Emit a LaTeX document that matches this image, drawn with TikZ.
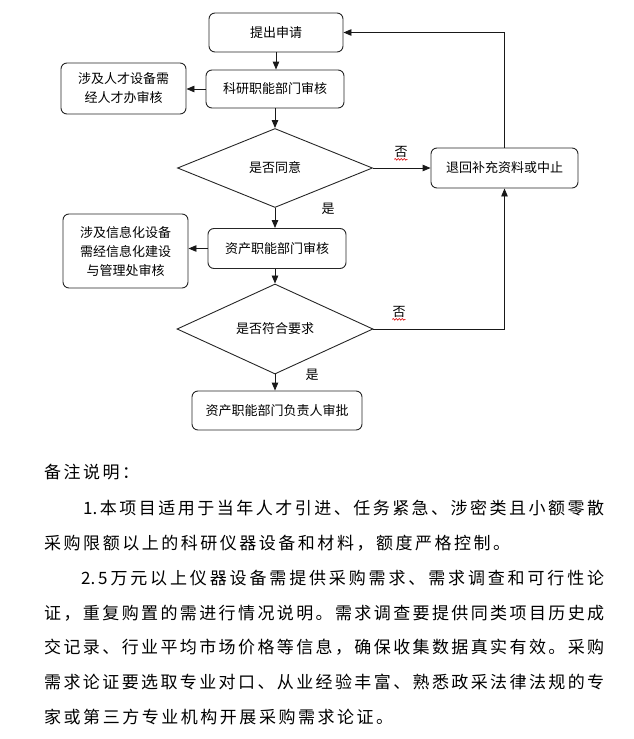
\documentclass[tikz,border=0pt]{standalone}
\usepackage{fontspec}
\setmainfont{Noto Sans CJK SC}
\usetikzlibrary{shapes.geometric,arrows.meta,decorations.pathmorphing}
\makeatletter
\def\sp@end{\sp@end}
\newcommand\spreadline[2]{\makebox[#1][s]{\sp@go#2\sp@end}}
\def\sp@go#1{\ifx\sp@end#1\else#1\expandafter\sp@next\fi}
\def\sp@next#1{\ifx\sp@end#1\else\hfil#1\expandafter\sp@next\fi}
\makeatother
\newcommand\nA{1.}
\newcommand\nB{2.}
\begin{document}
\begin{tikzpicture}[x=1pt,y=-1pt,
  box/.style={draw=black!85, line width=0.9pt, rounded corners=6pt, inner sep=0pt, align=center, font=\fontsize{13}{19}\selectfont},
  dia/.style={draw=black!85, line width=0.9pt, diamond, inner sep=0pt, font=\fontsize{13}{15}\selectfont},
  arr/.style={draw=black!90, line width=0.9pt, -{Triangle[length=8pt,width=6.5pt]}},
  lbl/.style={inner sep=0pt, font=\fontsize{13}{15}\selectfont},
  wavy/.style={draw=red!85!black, line width=0.6pt, decorate, decoration={snake, amplitude=0.8pt, segment length=3pt}},
  para/.style={anchor=west, inner sep=0pt, font=\fontsize{17}{20}\selectfont}]
\useasboundingbox (0,0) rectangle (634,739);

% flowchart nodes
\node[box, minimum width=134pt, minimum height=39pt] (apply) at (276,32.5) {提出申请};
\node[box, minimum width=138pt, minimum height=38pt] (keyan) at (275,89) {科研职能部门审核};
\node[box, minimum width=125pt, minimum height=51pt] (talent) at (123.5,88.5) {涉及人才设备需\\经人才办审核};
\node[dia, minimum width=195pt, minimum height=79pt] (d1) at (275,168) {是否同意};
\node[box, minimum width=147pt, minimum height=40pt] (back) at (504.5,168) {退回补充资料或中止};
\node[box, minimum width=125pt, minimum height=74pt] (info) at (125.5,251) {涉及信息化设备\\需经信息化建设\\与管理处审核};
\node[box, minimum width=138pt, minimum height=40pt] (asset) at (277,248.5) {资产职能部门审核};
\node[dia, minimum width=196pt, minimum height=80pt] (d2) at (275,329) {是否符合要求};
\node[box, minimum width=170pt, minimum height=39pt] (final) at (277,410.5) {资产职能部门负责人审批};

% labels
\node[lbl] (no1) at (401,152) {否};
\node[lbl] (no2) at (399,312) {否};
\node[lbl] (yes1) at (328,209) {是};
\node[lbl] (yes2) at (312,375) {是};
\draw[wavy] ([yshift=-1.5pt]no1.south west) -- ([yshift=-1.5pt]no1.south east);
\draw[wavy] ([yshift=-1.5pt]no2.south west) -- ([yshift=-1.5pt]no2.south east);

% connectors
\draw[arr] (apply.south) -- (apply.south |- keyan.north);
\draw[arr] (keyan.west) -- (keyan.west -| talent.east);
\draw[arr] (keyan.south) -- (keyan.south |- d1.north);
\draw[arr] (d1.east) -- (d1.east -| back.west);
\draw[arr] (d1.south) -- (d1.south |- asset.north);
\draw[arr] (asset.west) -- (asset.west -| info.east);
\draw[arr] (asset.south -| d2.north) -- (d2.north);
\draw[arr] (d2.south) -- (d2.south |- final.north);
\draw[arr] (d2.east) -| (back.south);
\draw[arr] (back.north) |- (apply.east);

% notes
\node[para] (n0) at (44,472) {\spreadline{95pt}{备注说明：}};
\node[para] (n1) at (83,508) {\spreadline{521pt}{\nA 本项目适用于当年人才引进、任务紧急、涉密类且小额零散}};
\node[para] (n2) at (44,543) {\spreadline{466pt}{采购限额以上的科研仪器设备和材料，额度严格控制。}};
\node[para] (n3) at (81,578) {\spreadline{523pt}{\nB 5万元以上仪器设备需提供采购需求、需求调查和可行性论}};
\node[para] (n4) at (44,613) {\spreadline{560pt}{证，重复购置的需进行情况说明。需求调查要提供同类项目历史成}};
\node[para] (n5) at (44,647) {\spreadline{560pt}{交记录、行业平均市场价格等信息，确保收集数据真实有效。采购}};
\node[para] (n6) at (44,682) {\spreadline{560pt}{需求论证要选取专业对口、从业经验丰富、熟悉政采法律法规的专}};
\node[para] (n7) at (44,717) {\spreadline{349pt}{家或第三方专业机构开展采购需求论证。}};
\end{tikzpicture}
\end{document}
